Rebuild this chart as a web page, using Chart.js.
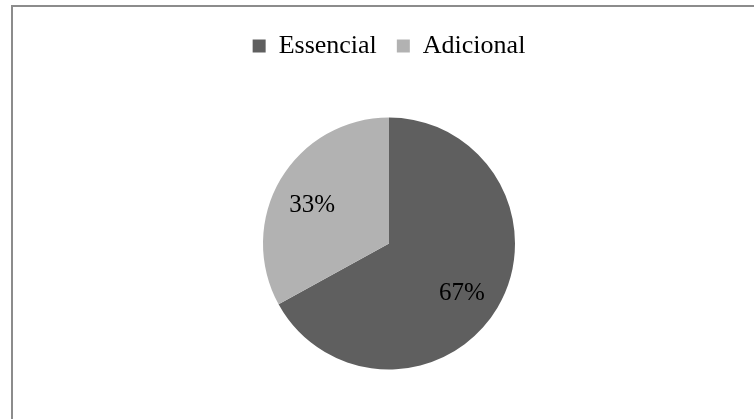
<!DOCTYPE html>
<html>
<head>
<meta charset="utf-8">
<script src="https://cdn.jsdelivr.net/npm/chart.js@4/dist/chart.umd.min.js"></script>
<style>
  html, body { margin: 0; padding: 0; background: #ffffff; }
  #wrap { width: 754px; height: 419px; position: relative; }
</style>
</head>
<body>
<div id="wrap"><canvas id="c" width="754" height="419"></canvas></div>
<script>
// Share of each item type
const categories = ['Essencial', 'Adicional'];
const shares = [67, 33];
const sliceColors = ['#5f5f5f', '#b2b2b2'];

const serif = "'Liberation Serif', 'Times New Roman', serif";

// Frame lines along the top and left edges
const framePlugin = {
  id: 'frame',
  beforeDraw(chart) {
    const ctx = chart.ctx;
    ctx.save();
    ctx.fillStyle = '#ffffff';
    ctx.fillRect(0, 0, chart.width, chart.height);
    ctx.strokeStyle = '#8c8c8c';
    ctx.lineWidth = 2;
    ctx.beginPath();
    ctx.moveTo(12, chart.height);
    ctx.lineTo(12, 6);
    ctx.lineTo(chart.width, 6);
    ctx.stroke();
    ctx.restore();
  }
};

// Percentage labels inside each slice
const pctLabels = {
  id: 'pctLabels',
  afterDatasetsDraw(chart) {
    const ctx = chart.ctx;
    const meta = chart.getDatasetMeta(0);
    const data = chart.data.datasets[0].data;
    const total = data.reduce((a, b) => a + b, 0);
    ctx.save();
    ctx.fillStyle = '#000000';
    ctx.font = '25px ' + serif;
    ctx.textAlign = 'center';
    ctx.textBaseline = 'middle';
    meta.data.forEach((arc, i) => {
      const p = arc.getProps(['x', 'y', 'startAngle', 'endAngle', 'outerRadius'], true);
      const mid = (p.startAngle + p.endAngle) / 2;
      const r = p.outerRadius * 0.69;
      const pct = Math.round(data[i] / total * 100) + '%';
      ctx.fillText(pct, p.x - 2 + Math.cos(mid) * r, p.y + 6 + Math.sin(mid) * r);
    });
    ctx.restore();
  }
};

new Chart(document.getElementById('c'), {
  type: 'pie',
  data: {
    labels: categories,
    datasets: [{
      data: shares,
      backgroundColor: sliceColors,
      borderWidth: 0
    }]
  },
  options: {
    responsive: false,
    animation: false,
    radius: 126,
    layout: { padding: { top: 13, left: 24, right: 0, bottom: 1 } },
    plugins: {
      legend: {
        position: 'top',
        labels: {
          font: { family: serif, size: 26 },
          color: '#000000',
          boxWidth: 13,
          boxHeight: 13,
          padding: 20
        }
      },
      tooltip: { enabled: false }
    }
  },
  plugins: [framePlugin, pctLabels]
});
</script>
</body>
</html>
